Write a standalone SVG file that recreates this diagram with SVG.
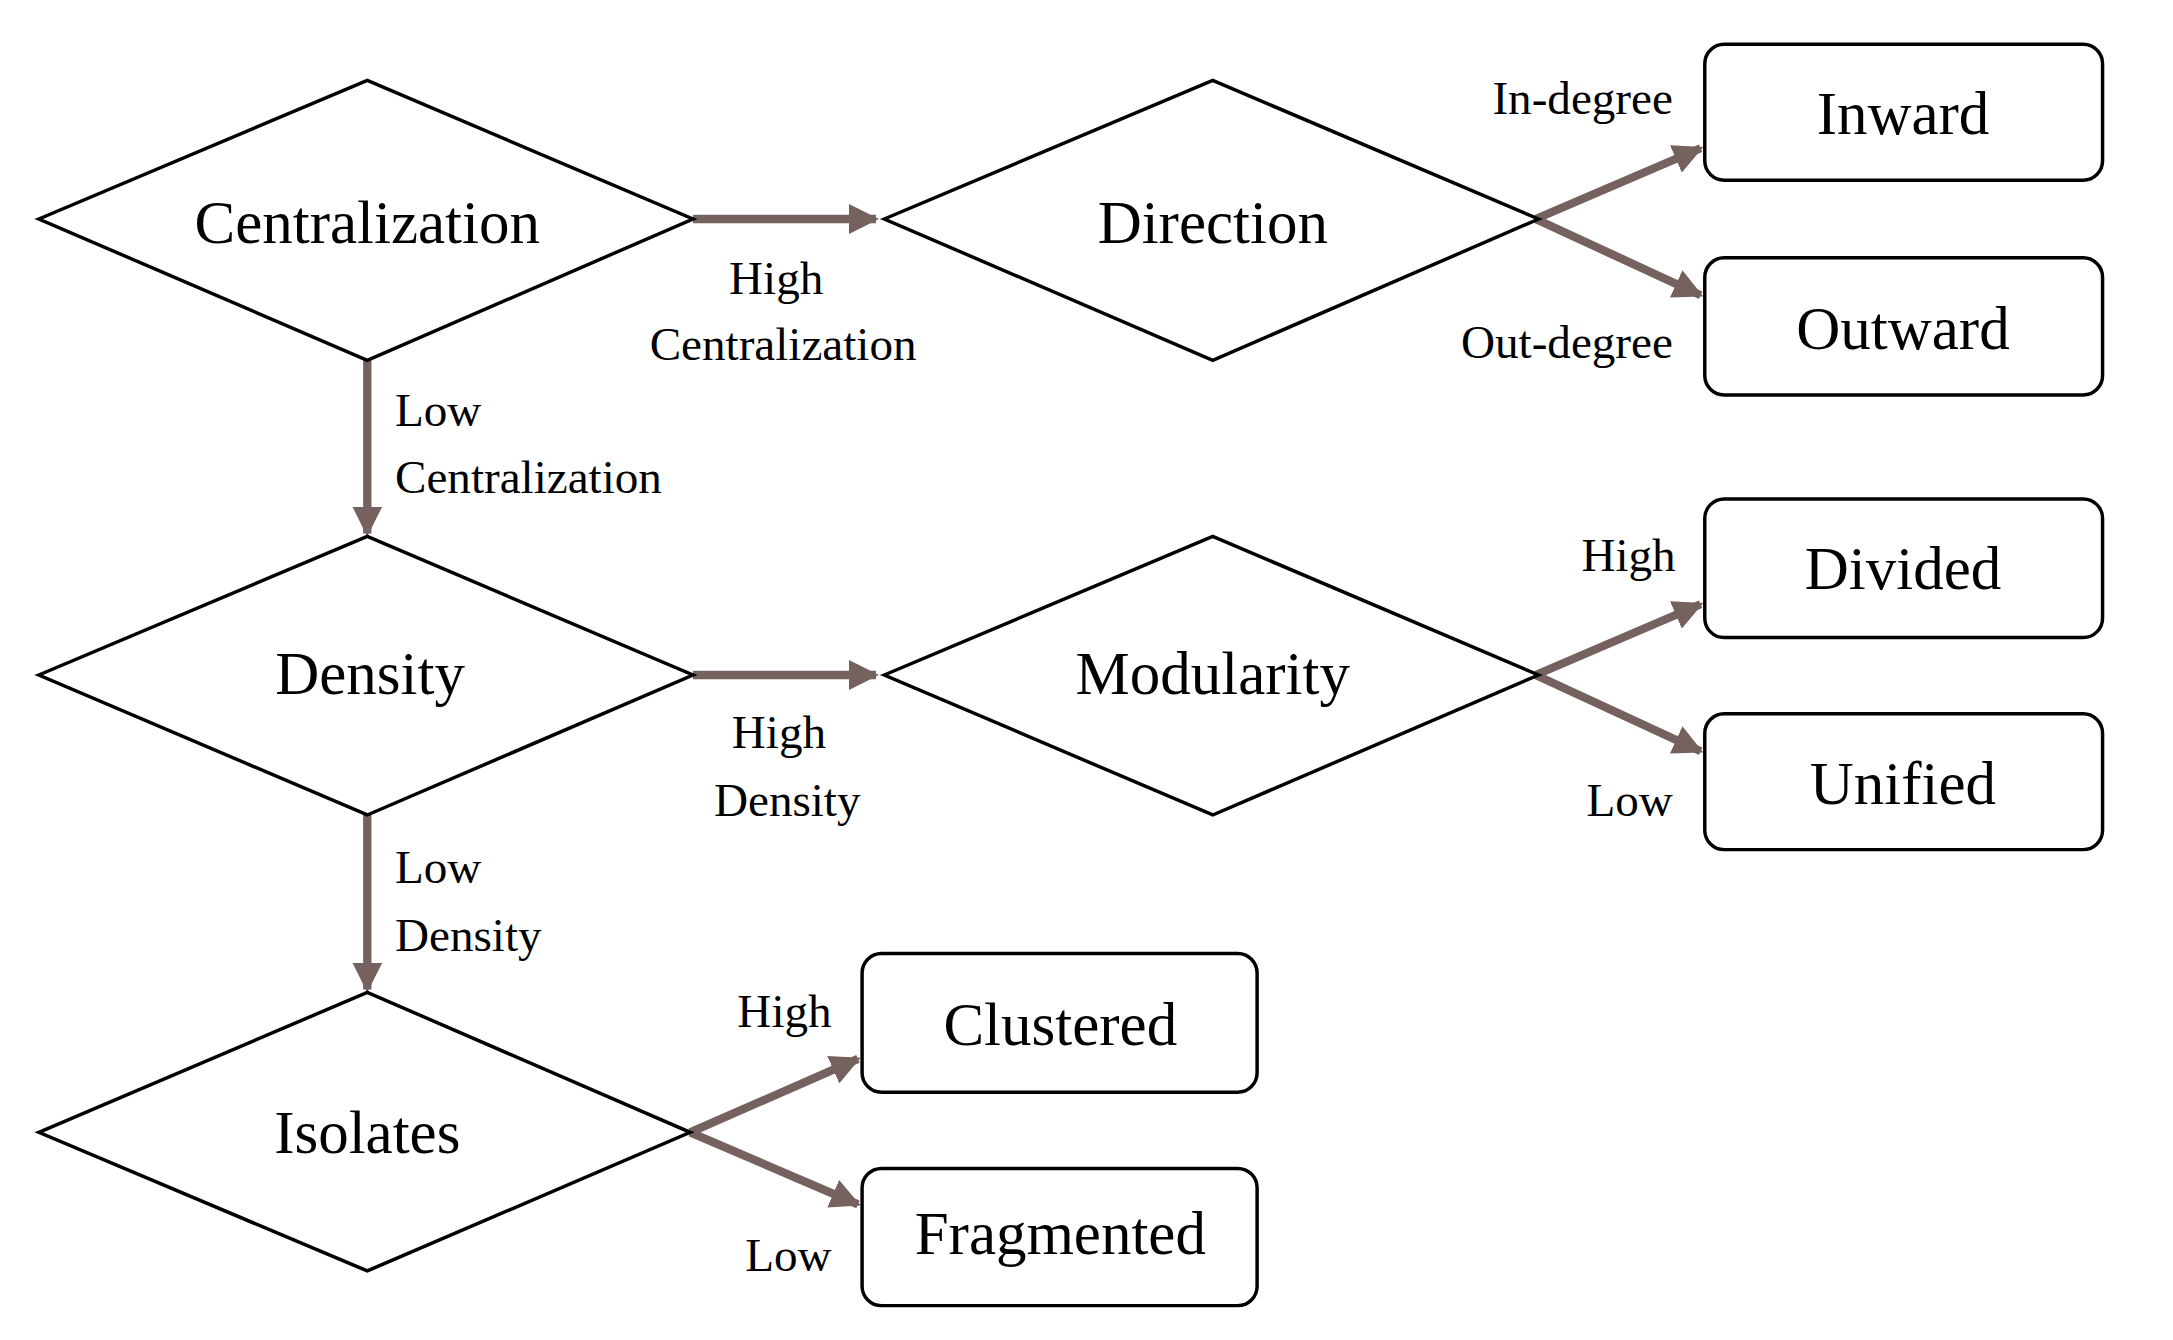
<svg xmlns="http://www.w3.org/2000/svg" width="2173" height="1340" viewBox="0 0 2173 1340">
<style>
.d{fill:#fff;stroke:#000;stroke-width:2.5}
.b{fill:#fff;stroke:#000;stroke-width:2.5}
.n{font-family:"Liberation Serif",serif;font-size:44px;text-anchor:middle;fill:#000}
.l{font-family:"Liberation Serif",serif;font-size:34px;fill:#000}
.c{stroke:#75625f;stroke-width:6;fill:none}
</style>
<defs><marker id="a" viewBox="0 0 10 10" refX="9" refY="5" markerWidth="3.6" markerHeight="3.6" orient="auto" markerUnits="strokeWidth"><path d="M0,0L10,5L0,10z" fill="#75625f"/></marker></defs>
<rect width="2173" height="1340" fill="#fff"/>
<g transform="scale(1.386)">
<g id="connectors">
<line class="c" x1="500" y1="158" x2="632" y2="158" marker-end="url(#a)"/>
<line class="c" x1="265" y1="260" x2="265" y2="385" marker-end="url(#a)"/>
<line class="c" x1="500" y1="487" x2="632" y2="487" marker-end="url(#a)"/>
<line class="c" x1="265" y1="588" x2="265" y2="714" marker-end="url(#a)"/>
<line class="c" x1="1108" y1="158" x2="1227" y2="107" marker-end="url(#a)"/>
<line class="c" x1="1108" y1="158" x2="1227" y2="213" marker-end="url(#a)"/>
<line class="c" x1="1108" y1="487" x2="1227" y2="436" marker-end="url(#a)"/>
<line class="c" x1="1108" y1="487" x2="1227" y2="542" marker-end="url(#a)"/>
<line class="c" x1="498" y1="817" x2="619" y2="764" marker-end="url(#a)"/>
<line class="c" x1="498" y1="817" x2="619" y2="869" marker-end="url(#a)"/>
<text class="l" x="560" y="212" text-anchor="middle">High</text>
<text class="l" x="565" y="260" text-anchor="middle">Centralization</text>
<text class="l" x="285" y="307">Low</text>
<text class="l" x="285" y="356">Centralization</text>
<text class="l" x="562" y="540" text-anchor="middle">High</text>
<text class="l" x="568" y="589" text-anchor="middle">Density</text>
<text class="l" x="285" y="637">Low</text>
<text class="l" x="285" y="686">Density</text>
<text class="l" x="1207" y="82" text-anchor="end">In-degree</text>
<text class="l" x="1207" y="258" text-anchor="end">Out-degree</text>
<text class="l" x="1209" y="412" text-anchor="end">High</text>
<text class="l" x="1207" y="589" text-anchor="end">Low</text>
<text class="l" x="600" y="741" text-anchor="end">High</text>
<text class="l" x="600" y="917" text-anchor="end">Low</text>
</g>
<g id="centralization"><polygon class="d" points="28,158 265,58 500,158 265,260"/><text class="n" x="265" y="175">Centralization</text></g>
<g id="direction"><polygon class="d" points="638,158 875,58 1110,158 875,260"/><text class="n" x="875" y="175">Direction</text></g>
<g id="density"><polygon class="d" points="28,487 265,387 500,487 265,588"/><text class="n" x="267" y="501">Density</text></g>
<g id="modularity"><polygon class="d" points="638,487 875,387 1110,487 875,588"/><text class="n" x="875" y="501">Modularity</text></g>
<g id="isolates"><polygon class="d" points="28,817 265,716 498,817 265,917"/><text class="n" x="265" y="832">Isolates</text></g>
<g id="inward"><rect class="b" x="1230" y="32" width="287" height="98" rx="14"/><text class="n" x="1373" y="97">Inward</text></g>
<g id="outward"><rect class="b" x="1230" y="186" width="287" height="99" rx="14"/><text class="n" x="1373" y="252">Outward</text></g>
<g id="divided"><rect class="b" x="1230" y="360" width="287" height="100" rx="14"/><text class="n" x="1373" y="425">Divided</text></g>
<g id="unified"><rect class="b" x="1230" y="515" width="287" height="98" rx="14"/><text class="n" x="1373" y="580">Unified</text></g>
<g id="clustered"><rect class="b" x="622" y="688" width="285" height="100" rx="14"/><text class="n" x="765" y="754">Clustered</text></g>
<g id="fragmented"><rect class="b" x="622" y="843" width="285" height="99" rx="14"/><text class="n" x="765" y="905">Fragmented</text></g>
</g>
</svg>
